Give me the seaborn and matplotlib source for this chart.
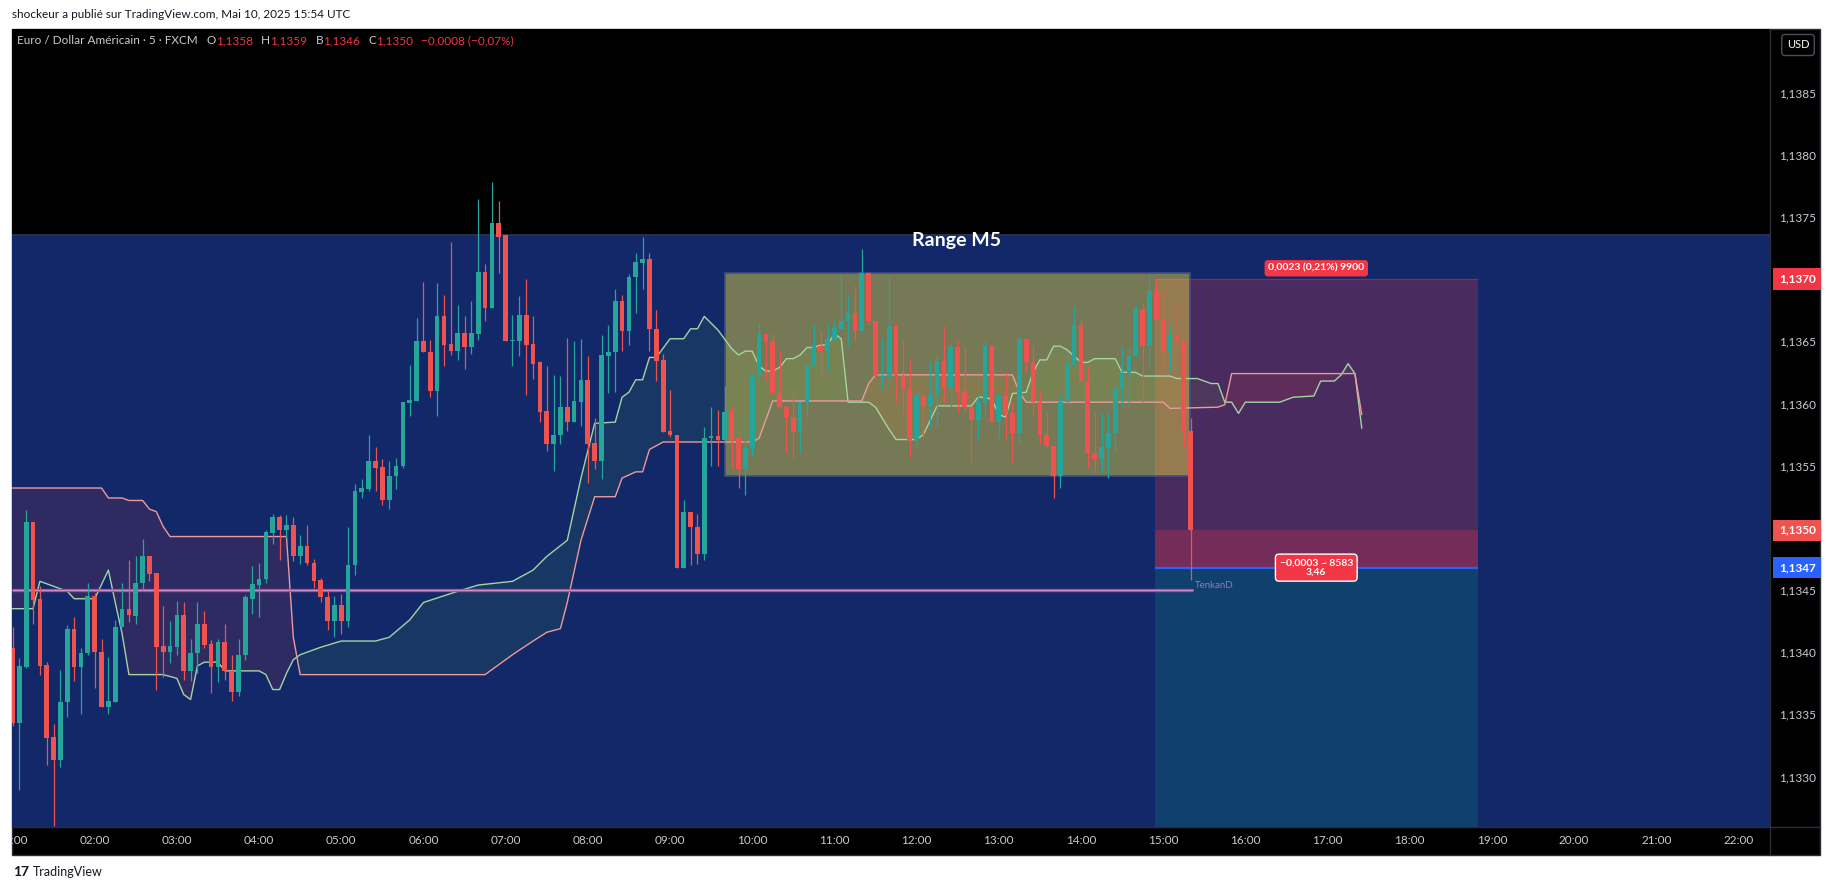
import numpy as np
import pandas as pd
import matplotlib
matplotlib.use("Agg")
import matplotlib.pyplot as plt
import matplotlib.transforms as mtransforms
from matplotlib.patches import Rectangle
from matplotlib.ticker import FuncFormatter
import seaborn as sns

sns.set_style("ticks")
plt.rcParams['font.family'] = ['Lato', 'DejaVu Sans']

# EUR/USD 5 min candles, first one at 01:00
opens = [
    1.13403, 1.13343, 1.13388, 1.13505, 1.13443, 1.13390, 1.13332, 1.13313, 1.13360, 1.13419,
    1.13388, 1.13399, 1.13445, 1.13400, 1.13356, 1.13360, 1.13420, 1.13435, 1.13429, 1.13456,
    1.13477, 1.13464, 1.13405, 1.13400, 1.13404, 1.13430, 1.13385, 1.13399, 1.13423, 1.13407,
    1.13388, 1.13408, 1.13385, 1.13368, 1.13398, 1.13443, 1.13454, 1.13459, 1.13496, 1.13509,
    1.13498, 1.13502, 1.13477, 1.13485, 1.13472, 1.13458, 1.13444, 1.13425, 1.13438, 1.13425,
    1.13470, 1.13529, 1.13531, 1.13554, 1.13549, 1.13522, 1.13542, 1.13550, 1.13600, 1.13602,
    1.13650, 1.13641, 1.13610, 1.13670, 1.13648, 1.13642, 1.13657, 1.13645, 1.13656, 1.13706,
    1.13677, 1.13745, 1.13735, 1.13650, 1.13650, 1.13671, 1.13648, 1.13633, 1.13594, 1.13567,
    1.13575, 1.13597, 1.13585, 1.13601, 1.13619, 1.13568, 1.13554, 1.13638, 1.13641, 1.13682,
    1.13658, 1.13702, 1.13713, 1.13716, 1.13660, 1.13635, 1.13578, 1.13575, 1.13468, 1.13513,
    1.13501, 1.13479, 1.13572, 1.13574, 1.13571, 1.13593, 1.13572, 1.13547, 1.13563, 1.13622,
    1.13656, 1.13650, 1.13608, 1.13597, 1.13589, 1.13577, 1.13600, 1.13630, 1.13646, 1.13642,
    1.13651, 1.13660, 1.13666, 1.13673, 1.13658, 1.13705, 1.13666, 1.13621, 1.13621, 1.13662,
    1.13622, 1.13612, 1.13571, 1.13606, 1.13598, 1.13607, 1.13634, 1.13613, 1.13645, 1.13610,
    1.13597, 1.13587, 1.13600, 1.13646, 1.13585, 1.13606, 1.13592, 1.13576, 1.13652, 1.13633,
    1.13601, 1.13575, 1.13566, 1.13542, 1.13601, 1.13631, 1.13663, 1.13618, 1.13560, 1.13555,
    1.13564, 1.13576, 1.13613, 1.13624, 1.13638, 1.13676, 1.13646, 1.13690, 1.13667, 1.13642,
    1.13654, 1.13650, 1.13578]
highs = [
    1.13420, 1.13395, 1.13514, 1.13505, 1.13453, 1.13392, 1.13342, 1.13386, 1.13422, 1.13428,
    1.13403, 1.13456, 1.13448, 1.13411, 1.13396, 1.13426, 1.13456, 1.13474, 1.13477, 1.13491,
    1.13477, 1.13464, 1.13437, 1.13425, 1.13441, 1.13440, 1.13411, 1.13440, 1.13433, 1.13410,
    1.13411, 1.13423, 1.13398, 1.13411, 1.13446, 1.13469, 1.13472, 1.13498, 1.13511, 1.13510,
    1.13510, 1.13509, 1.13494, 1.13502, 1.13475, 1.13460, 1.13450, 1.13445, 1.13447, 1.13501,
    1.13535, 1.13539, 1.13575, 1.13565, 1.13555, 1.13554, 1.13556, 1.13601, 1.13631, 1.13669,
    1.13698, 1.13651, 1.13697, 1.13687, 1.13730, 1.13679, 1.13670, 1.13682, 1.13764, 1.13712,
    1.13778, 1.13763, 1.13735, 1.13671, 1.13686, 1.13700, 1.13670, 1.13634, 1.13630, 1.13623,
    1.13622, 1.13653, 1.13650, 1.13652, 1.13638, 1.13588, 1.13655, 1.13663, 1.13692, 1.13687,
    1.13704, 1.13721, 1.13734, 1.13721, 1.13675, 1.13640, 1.13611, 1.13575, 1.13522, 1.13513,
    1.13511, 1.13581, 1.13597, 1.13595, 1.13614, 1.13598, 1.13574, 1.13583, 1.13624, 1.13665,
    1.13657, 1.13657, 1.13643, 1.13599, 1.13610, 1.13601, 1.13631, 1.13664, 1.13658, 1.13663,
    1.13666, 1.13704, 1.13687, 1.13694, 1.13724, 1.13705, 1.13666, 1.13652, 1.13703, 1.13664,
    1.13650, 1.13635, 1.13609, 1.13609, 1.13634, 1.13638, 1.13662, 1.13648, 1.13651, 1.13646,
    1.13598, 1.13607, 1.13650, 1.13646, 1.13606, 1.13625, 1.13601, 1.13655, 1.13652, 1.13647,
    1.13610, 1.13592, 1.13566, 1.13607, 1.13642, 1.13678, 1.13669, 1.13630, 1.13592, 1.13592,
    1.13592, 1.13614, 1.13645, 1.13645, 1.13679, 1.13681, 1.13703, 1.13701, 1.13691, 1.13662,
    1.13679, 1.13650, 1.13588]
lows = [
    1.13341, 1.13289, 1.13387, 1.13423, 1.13382, 1.13309, 1.13260, 1.13308, 1.13348, 1.13377,
    1.13350, 1.13398, 1.13371, 1.13356, 1.13350, 1.13360, 1.13420, 1.13424, 1.13423, 1.13450,
    1.13457, 1.13370, 1.13380, 1.13391, 1.13398, 1.13378, 1.13377, 1.13383, 1.13403, 1.13367,
    1.13376, 1.13378, 1.13361, 1.13365, 1.13394, 1.13431, 1.13428, 1.13456, 1.13487, 1.13474,
    1.13492, 1.13473, 1.13471, 1.13470, 1.13452, 1.13440, 1.13418, 1.13412, 1.13415, 1.13420,
    1.13462, 1.13524, 1.13530, 1.13530, 1.13518, 1.13515, 1.13531, 1.13548, 1.13590, 1.13602,
    1.13641, 1.13605, 1.13590, 1.13630, 1.13639, 1.13635, 1.13628, 1.13640, 1.13651, 1.13666,
    1.13677, 1.13705, 1.13650, 1.13630, 1.13638, 1.13607, 1.13620, 1.13585, 1.13562, 1.13546,
    1.13567, 1.13578, 1.13585, 1.13582, 1.13536, 1.13547, 1.13539, 1.13608, 1.13609, 1.13642,
    1.13647, 1.13673, 1.13692, 1.13642, 1.13618, 1.13577, 1.13573, 1.13468, 1.13468, 1.13470,
    1.13471, 1.13474, 1.13550, 1.13550, 1.13567, 1.13548, 1.13532, 1.13526, 1.13557, 1.13619,
    1.13619, 1.13608, 1.13597, 1.13560, 1.13556, 1.13560, 1.13589, 1.13630, 1.13622, 1.13627,
    1.13651, 1.13660, 1.13646, 1.13650, 1.13658, 1.13663, 1.13621, 1.13611, 1.13614, 1.13601,
    1.13589, 1.13557, 1.13564, 1.13572, 1.13581, 1.13581, 1.13601, 1.13597, 1.13592, 1.13592,
    1.13552, 1.13571, 1.13591, 1.13585, 1.13572, 1.13571, 1.13552, 1.13567, 1.13625, 1.13589,
    1.13567, 1.13564, 1.13524, 1.13532, 1.13601, 1.13631, 1.13617, 1.13548, 1.13544, 1.13544,
    1.13540, 1.13560, 1.13598, 1.13598, 1.13638, 1.13601, 1.13627, 1.13667, 1.13625, 1.13625,
    1.13640, 1.13565, 1.13458]
closes = [
    1.13343, 1.13389, 1.13505, 1.13442, 1.13389, 1.13331, 1.13313, 1.13360, 1.13419, 1.13388,
    1.13399, 1.13445, 1.13400, 1.13356, 1.13361, 1.13420, 1.13435, 1.13430, 1.13456, 1.13477,
    1.13463, 1.13404, 1.13400, 1.13405, 1.13430, 1.13385, 1.13399, 1.13423, 1.13406, 1.13388,
    1.13408, 1.13385, 1.13368, 1.13398, 1.13444, 1.13455, 1.13459, 1.13497, 1.13509, 1.13498,
    1.13502, 1.13477, 1.13485, 1.13472, 1.13457, 1.13444, 1.13425, 1.13438, 1.13425, 1.13470,
    1.13530, 1.13532, 1.13554, 1.13548, 1.13522, 1.13542, 1.13550, 1.13601, 1.13603, 1.13650,
    1.13641, 1.13610, 1.13670, 1.13647, 1.13642, 1.13657, 1.13645, 1.13657, 1.13706, 1.13677,
    1.13745, 1.13734, 1.13650, 1.13651, 1.13671, 1.13647, 1.13632, 1.13593, 1.13567, 1.13575,
    1.13597, 1.13585, 1.13602, 1.13619, 1.13567, 1.13554, 1.13639, 1.13641, 1.13682, 1.13658,
    1.13702, 1.13714, 1.13716, 1.13660, 1.13634, 1.13577, 1.13575, 1.13468, 1.13513, 1.13501,
    1.13479, 1.13572, 1.13574, 1.13571, 1.13593, 1.13571, 1.13547, 1.13564, 1.13623, 1.13656,
    1.13650, 1.13608, 1.13597, 1.13589, 1.13577, 1.13601, 1.13631, 1.13646, 1.13642, 1.13652,
    1.13661, 1.13666, 1.13673, 1.13658, 1.13705, 1.13666, 1.13622, 1.13622, 1.13662, 1.13622,
    1.13612, 1.13571, 1.13606, 1.13598, 1.13607, 1.13634, 1.13613, 1.13645, 1.13609, 1.13597,
    1.13587, 1.13601, 1.13646, 1.13585, 1.13606, 1.13592, 1.13576, 1.13652, 1.13633, 1.13601,
    1.13575, 1.13566, 1.13542, 1.13601, 1.13632, 1.13663, 1.13617, 1.13560, 1.13555, 1.13565,
    1.13576, 1.13613, 1.13624, 1.13639, 1.13676, 1.13646, 1.13690, 1.13667, 1.13642, 1.13654,
    1.13650, 1.13578, 1.13498]

# ichimoku cloud borders (candle index, price), shifted forward past the last candle
span_a_idx = [0, 3, 4, 6, 8, 9, 12, 14, 15, 16, 17, 22, 24, 25, 26, 27, 28, 30, 31, 36,
              37, 38, 39, 40, 41, 42, 43, 45, 48, 53, 55, 58, 60, 65, 68, 73, 76, 78, 81, 83,
              85, 88, 89, 90, 91, 92, 93, 94, 96, 98, 99, 100, 101, 103, 105, 106, 107, 108, 109, 110,
              111, 112, 113, 114, 115, 116, 117, 118, 119, 120, 121, 122, 125, 126, 128, 129, 132, 133, 135, 140,
              141, 142, 143, 144, 145, 146, 148, 149, 150, 151, 152, 153, 154, 156, 157, 158, 161, 162, 164, 165,
              169, 170, 173, 175, 176, 177, 178, 179, 180, 185, 187, 190, 191, 193, 194, 195, 196, 197]
span_a_val = [1.13435, 1.13435, 1.13457, 1.13453, 1.13449, 1.13443, 1.13443, 1.13466, 1.13440, 1.13415,
              1.13382, 1.13382, 1.13379, 1.13366, 1.13362, 1.13389, 1.13392, 1.13392, 1.13385, 1.13385,
              1.13382, 1.13370, 1.13370, 1.13383, 1.13394, 1.13398, 1.13400, 1.13404, 1.13409, 1.13409,
              1.13412, 1.13426, 1.13440, 1.13449, 1.13454, 1.13457, 1.13466, 1.13477, 1.13490, 1.13540,
              1.13584, 1.13585, 1.13605, 1.13609, 1.13619, 1.13619, 1.13637, 1.13637, 1.13652, 1.13652,
              1.13660, 1.13660, 1.13670, 1.13659, 1.13644, 1.13639, 1.13642, 1.13642, 1.13630, 1.13626,
              1.13626, 1.13629, 1.13636, 1.13636, 1.13639, 1.13645, 1.13645, 1.13647, 1.13647, 1.13656,
              1.13652, 1.13601, 1.13601, 1.13597, 1.13579, 1.13571, 1.13571, 1.13575, 1.13598, 1.13598,
              1.13605, 1.13605, 1.13603, 1.13591, 1.13589, 1.13608, 1.13609, 1.13625, 1.13635, 1.13635,
              1.13646, 1.13646, 1.13643, 1.13633, 1.13633, 1.13636, 1.13636, 1.13625, 1.13625, 1.13622,
              1.13622, 1.13620, 1.13620, 1.13616, 1.13616, 1.13601, 1.13601, 1.13592, 1.13601, 1.13601,
              1.13605, 1.13606, 1.13618, 1.13618, 1.13623, 1.13632, 1.13624, 1.13580]
span_b_idx = [0, 13, 14, 16, 17, 19, 20, 21, 22, 23, 40, 41, 42, 69, 71, 73, 76, 78, 80, 81,
              83, 85, 88, 89, 91, 92, 93, 95, 108, 109, 111, 124, 125, 126, 146, 147, 148, 168, 169, 176,
              177, 178, 196, 197]
span_b_val = [1.13532, 1.13532, 1.13524, 1.13524, 1.13522, 1.13522, 1.13515, 1.13513, 1.13501, 1.13493,
              1.13493, 1.13412, 1.13382, 1.13382, 1.13390, 1.13398, 1.13409, 1.13416, 1.13419, 1.13440,
              1.13490, 1.13525, 1.13525, 1.13540, 1.13545, 1.13545, 1.13563, 1.13569, 1.13569, 1.13572,
              1.13602, 1.13602, 1.13616, 1.13623, 1.13623, 1.13609, 1.13601, 1.13601, 1.13596, 1.13597,
              1.13599, 1.13624, 1.13624, 1.13591]

# drawings
tenkan_level = 1.13450
tenkan_end_idx = 172.3
range_top = 1.13735            # big "Range M5" rectangle
box_t = (9.663, 15.327)        # yellow box, hours
box_low, box_high = 1.13542, 1.13705
pos_t = (14.901, 18.825)       # short position tool, hours
entry, stop = 1.13468, 1.13700

START = 1.0
STEP = 1 / 12
t = START + np.arange(len(closes)) * STEP
o, h, l, c = map(np.array, (opens, highs, lows, closes))

UP, DOWN = '#26a69a', '#ef5350'
RED_TAG = '#f23645'
GREY_TXT = '#c9cbd1'

W, H = 1835, 890
fig = plt.figure(figsize=(W / 100, H / 100), dpi=100, facecolor='white')


def fx(px):
    return px / W


def fy(py):
    return 1 - py / H


# dark panel behind everything
fig.add_artist(Rectangle((fx(12), fy(855)), fx(1820 - 12), (855 - 29) / H,
                         transform=fig.transFigure, fc='black', ec='#2a2e39', lw=1, zorder=-5))

ax = fig.add_axes([fx(12), fy(827), fx(1770 - 12), (827 - 29) / H])
ax.set_facecolor('black')
ymin, ymax = 1.132595, 1.139010
ax.set_xlim(0.9939, 22.3835)
ax.set_ylim(ymin, ymax)

# big blue range rectangle
ax.axhspan(ymin - 0.001, range_top, color='#122869', zorder=0.2, lw=0)
ax.axhline(range_top, color='#2b3350', lw=1.3, zorder=0.3)
ax.text(12.48, 1.13731, 'Range M5', color='white', fontsize=14, fontweight='bold',
        ha='center', va='center', zorder=12)

# cloud fill
grid = np.linspace(0, max(span_a_idx[-1], span_b_idx[-1]), 4000)
ga = np.interp(grid, span_a_idx, span_a_val)
gb = np.interp(grid, span_b_idx, span_b_val)
gt = START + grid * STEP
ax.fill_between(gt, ga, gb, where=ga >= gb, interpolate=True, color='#43a047', alpha=0.13, lw=0, zorder=1)
ax.fill_between(gt, ga, gb, where=ga < gb, interpolate=True, color='#f44336', alpha=0.12, lw=0, zorder=1)

# position tool
pw = pos_t[1] - pos_t[0]
ax.add_patch(Rectangle((pos_t[0], entry), pw, stop - entry, fc=RED_TAG, alpha=0.25, lw=0, zorder=1.5))
ax.add_patch(Rectangle((pos_t[0], entry), pw, c[-1] - entry, fc=RED_TAG, alpha=0.25, lw=0, zorder=1.5))
ax.add_patch(Rectangle((pos_t[0], ymin - 0.001), pw, entry - ymin + 0.001, fc='#089981', alpha=0.22,
                       lw=0, zorder=1.5))
ax.hlines(stop, pos_t[0], pos_t[1], color=RED_TAG, alpha=0.35, lw=1, zorder=1.6)
ax.hlines(entry, pos_t[0], pos_t[1], color='#2962ff', lw=1.6, zorder=1.6)

# yellow range box
ax.add_patch(Rectangle((box_t[0], box_low), box_t[1] - box_t[0], box_high - box_low,
                       fc=(1.0, 0.92, 0.23, 0.42), ec='#3d4f86', lw=1.2, zorder=1.8))

# cloud borders
span_a = pd.DataFrame({'t': START + np.array(span_a_idx) * STEP, 'v': span_a_val})
span_b = pd.DataFrame({'t': START + np.array(span_b_idx) * STEP, 'v': span_b_val})
sns.lineplot(data=span_a, x='t', y='v', ax=ax, color='#a3d4a3', lw=1.0, estimator=None, zorder=2)
sns.lineplot(data=span_b, x='t', y='v', ax=ax, color='#ec9a9e', lw=1.0, estimator=None, zorder=2)

# tenkan level
t_end = START + tenkan_end_idx * STEP
ax.hlines(tenkan_level, ax.get_xlim()[0], t_end, color='#a4509a', lw=2.4, zorder=2.5)
ax.hlines(tenkan_level, ax.get_xlim()[0], t_end, color='#d58ccb', lw=0.7, zorder=2.6)
ax.text(t_end + 0.03, tenkan_level + 0.00004, 'TenkanD', color='#8a7cc0', fontsize=7,
        ha='left', va='center', zorder=12)

# candles
cols = np.where(c >= o, UP, DOWN)
ax.vlines(t, l, h, colors=cols, lw=0.9, zorder=4)
body_lo = np.minimum(o, c)
body_h = np.maximum(np.abs(c - o), 0.000012)
ax.bar(t, body_h, bottom=body_lo, width=0.057, color=cols, lw=0, zorder=5)

# axes styling
for s in ax.spines.values():
    s.set_visible(False)
ax.set_xlabel('')
ax.set_ylabel('')
ax.yaxis.tick_right()
ax.set_yticks(np.arange(1.1330, 1.13851, 0.0005))
ax.yaxis.set_major_formatter(FuncFormatter(lambda v, _: f'{v:.4f}'.replace('.', ',')))
ax.set_xticks(np.arange(1, 23))
ax.set_xticklabels([f'{hh:02d}:00' for hh in range(1, 23)])
ax.tick_params(axis='y', length=0, pad=6.5, labelsize=8.5, labelcolor=GREY_TXT)
ax.tick_params(axis='x', length=0, pad=6, labelsize=8.5, labelcolor=GREY_TXT)

# separators
fig.add_artist(plt.Line2D([fx(1770), fx(1770)], [fy(29), fy(855)], color='#2a2e39', lw=1,
                          transform=fig.transFigure, zorder=3))
fig.add_artist(plt.Line2D([fx(12), fx(1820)], [fy(827), fy(827)], color='#2a2e39', lw=1,
                          transform=fig.transFigure, zorder=3))


def fmt(v):
    return f'{v:.4f}'.replace('.', ',')


# price tags on the axis
tr = mtransforms.blended_transform_factory(ax.transAxes, ax.transData)
for val, txt, col in [(stop, fmt(stop), RED_TAG), (c[-1], fmt(c[-1]), '#ef5350'),
                      (entry, fmt(entry), '#2962ff')]:
    ax.text(1.0050, val, txt, transform=tr, ha='left', va='center', color='white', fontsize=8.5,
            fontweight='bold', zorder=20, clip_on=False,
            bbox=dict(boxstyle='square,pad=0.45', fc=col, ec='none'))

# position labels
pmid = (pos_t[0] + pos_t[1]) / 2
ax.text(pmid, stop + 0.00005, '0,0023 (0,21%) 9900', ha='center', va='bottom', color='white',
        fontsize=7.5, fontweight='bold', zorder=20,
        bbox=dict(boxstyle='round,pad=0.35,rounding_size=0.3', fc=RED_TAG, ec='none'))
ax.text(pmid, entry, '\u22120,0003 ~ 8583\n3,46', ha='center', va='center', color='white',
        fontsize=7.5, fontweight='bold', zorder=20, linespacing=1.1,
        bbox=dict(boxstyle='round,pad=0.4,rounding_size=0.35', fc=RED_TAG, ec='white', lw=1))

# legend line
chg = c[-1] - c[-2]
pct = chg / c[-2] * 100
pieces = [('Euro / Dollar Américain · 5 · FXCM', GREY_TXT, 0),
          ('O', GREY_TXT, 6), (fmt(o[-1]), RED_TAG, 0),
          ('H', GREY_TXT, 6), (fmt(h[-1]), RED_TAG, 0),
          ('B', GREY_TXT, 6), (fmt(l[-1]), RED_TAG, 0),
          ('C', GREY_TXT, 6), (fmt(c[-1]), RED_TAG, 0),
          (f'{fmt(chg)} ({pct:.2f}%)'.replace('-', '\u2212').replace('.', ','), RED_TAG, 6)]
prev = ax.annotate(pieces[0][0], xy=(0.0031, 0.985), xycoords='axes fraction', ha='left',
                   va='center', color=pieces[0][1], fontsize=8.5, annotation_clip=False, zorder=20)
for txt, col, gap in pieces[1:]:
    prev = ax.annotate(txt, xy=(1, 0.5), xycoords=prev, xytext=(gap, 0), textcoords='offset points',
                       ha='left', va='center', color=col, fontsize=8.5, annotation_clip=False, zorder=20)

# currency box
fig.text(fx(1798), fy(45), 'USD', ha='center', va='center', color='white', fontsize=8,
         bbox=dict(boxstyle='round,pad=0.45,rounding_size=0.3', fc='black', ec='#4a4e59', lw=1))

# page texts
fig.text(fx(12), fy(14), 'shockeur a publié sur TradingView.com, Mai 10, 2025 15:54 UTC',
         ha='left', va='center', color='#131722', fontsize=8.5)
fig.text(fx(13), fy(872), '17', ha='left', va='center', color='#131722', fontsize=10,
         fontweight='bold')
fig.text(fx(33), fy(872), 'TradingView', ha='left', va='center', color='#131722', fontsize=9)

# white margin hides the clipped first time label
fig.add_artist(Rectangle((0, 0), fx(11), 1, transform=fig.transFigure, fc='white', ec='none',
                         zorder=50))

fig.savefig('out.png', dpi=100, facecolor='white')
